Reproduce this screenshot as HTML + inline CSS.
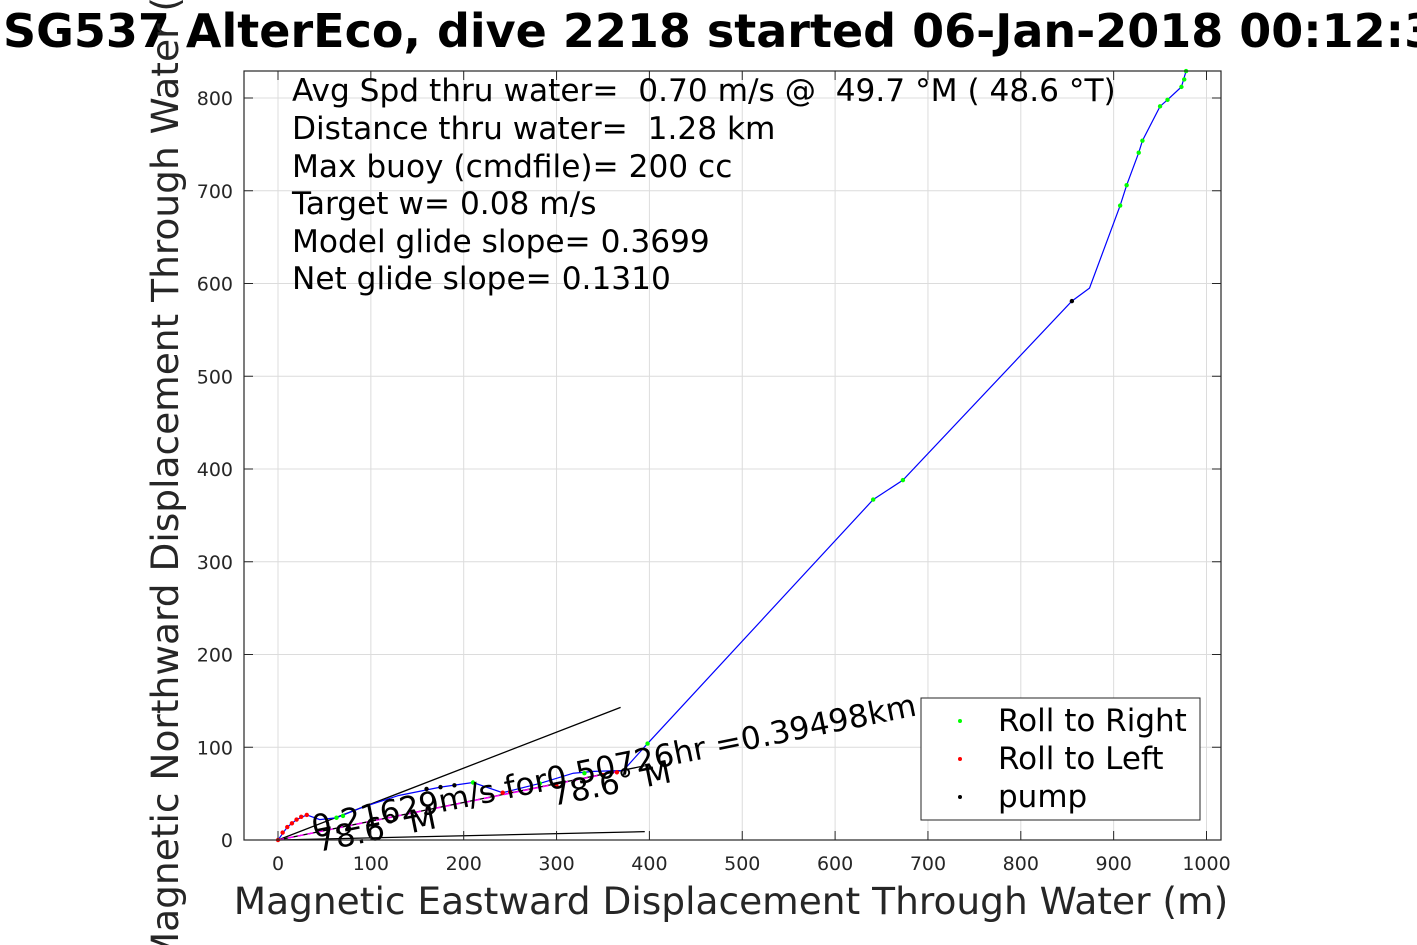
<!DOCTYPE html>
<html><head><meta charset="utf-8"><style>
body{margin:0;background:#fff;}
svg{display:block;font-family:"DejaVu Sans","Liberation Sans",sans-serif;}
text{white-space:pre;}
</style></head><body>
<svg id="chart" width="1417" height="945" viewBox="0 0 1417 945" xmlns="http://www.w3.org/2000/svg" xml:space="preserve">
<rect x="0" y="0" width="1417" height="945" fill="#fff"/>
<rect x="244" y="71" width="977" height="769" fill="#fff"/>
<g id="grid"></g>
<g id="marks"></g>
<rect x="244" y="71" width="977" height="769" fill="none" stroke="#262626" stroke-width="1.2"/>
<g id="ticks"></g>
<text x="3" y="47" font-size="46" font-weight="bold" fill="#000">SG537 AlterEco, dive 2218 started 06-Jan-2018 00:12:33</text>
<text x="731" y="914" text-anchor="middle" font-size="37.5" fill="#262626">Magnetic Eastward Displacement Through Water (m)</text>
<text transform="translate(178,455) rotate(-90)" text-anchor="middle" font-size="37.5" fill="#262626">Magnetic Northward Displacement Through Water (m)</text>
<g font-size="31.2" fill="#000">
<text x="292" y="101">Avg Spd thru water=  0.70 m/s @  49.7 °M ( 48.6 °T)</text>
<text x="292" y="139">Distance thru water=  1.28 km</text>
<text x="292" y="177">Max buoy (cmdfile)= 200 cc</text>
<text x="292" y="214">Target w= 0.08 m/s</text>
<text x="292" y="252">Model glide slope= 0.3699</text>
<text x="292" y="289">Net glide slope= 0.1310</text>
</g>
<g>
<rect x="921" y="698" width="279" height="122" fill="#fff" stroke="#262626" stroke-width="1"/>
<circle cx="960" cy="721" r="2" fill="#00ff00"/><text x="998" y="731" font-size="31">Roll to Right</text>
<circle cx="960" cy="759" r="2" fill="#ff0000"/><text x="998" y="769" font-size="31">Roll to Left</text>
<circle cx="960" cy="797" r="2" fill="#000"/><text x="998" y="807" font-size="31">pump</text>
</g>
</svg>
<script>
const xTicks=[0,100,200,300,400,500,600,700,800,900,1000];
const yTicks=[0,100,200,300,400,500,600,700,800];
const trackX=[0,10,20,31,45,63,90,130,175,210,242,282,318,340,372,398,641,673,855,874,907,914,927,931,950,958,973,978];
const trackY=[0,14,22,27,22,24,35,48,57,62,51,61,72,74,75,104,367,388,581,595,684,706,741,754,791,798,812,829];
const rightX=[63,70,210,282,330,398,641,673,907,914,927,931,950,958,973,976,978];
const rightY=[24,26,62,61,72,104,367,388,684,706,741,754,791,798,812,820,829];
const leftX=[0,5,10,15,20,25,31,242,250,300,350,365];
const leftY=[0,8,14,18,22,25,27,51,52,58,70,73];
const pumpX=[160,175,190,855];
const pumpY=[55,57,59,581];
const refEnd=[[369,143],[395,9],[395,80]];
const X0=278,XS=0.9285,Y0=840,YS=0.9275;
const sx=v=>X0+v*XS, sy=v=>Y0-v*YS;
const NS="http://www.w3.org/2000/svg";
const grid=document.getElementById('grid'),ticks=document.getElementById('ticks'),marks=document.getElementById('marks');
function mk(tag,attrs,parent){const e=document.createElementNS(NS,tag);for(const k in attrs)e.setAttribute(k,attrs[k]);parent.appendChild(e);return e;}
xTicks.forEach(t=>{
  const g=mk('line',{x1:sx(t),x2:sx(t),y1:71,y2:840,stroke:'#dcdcdc','stroke-width':1},grid);
  
  
  mk('line',{x1:sx(t),x2:sx(t),y1:840,y2:831,stroke:'#262626'},ticks);
  mk('line',{x1:sx(t),x2:sx(t),y1:71,y2:80,stroke:'#262626'},ticks);
  const l=mk('text',{x:sx(t),y:870,'text-anchor':'middle','font-size':19,fill:'#262626'},ticks);
  l.textContent=t;
  
  
});
yTicks.forEach(t=>{
  const g=mk('line',{x1:244,x2:1221,y1:sy(t),y2:sy(t),stroke:'#dcdcdc','stroke-width':1},grid);
  
  
  mk('line',{x1:244,x2:253,y1:sy(t),y2:sy(t),stroke:'#262626'},ticks);
  mk('line',{x1:1221,x2:1212,y1:sy(t),y2:sy(t),stroke:'#262626'},ticks);
  const l=mk('text',{x:233,y:sy(t)+7,'text-anchor':'end','font-size':19,fill:'#262626'},ticks);
  l.textContent=t;
  
  
});
refEnd.forEach((p,i)=>{
  const l=mk('line',{x1:sx(0),y1:sy(0),x2:sx(p[0]),y2:sy(p[1]),stroke:'#000','stroke-width':1.3},marks);
  
  
});
const dash=mk('line',{x1:sx(0),y1:sy(0),x2:sx(372),y2:sy(75),stroke:'#ff00ff','stroke-width':1.5,'stroke-dasharray':'6 4'},marks);


const path=mk('polyline',{points:trackX.map((x,i)=>sx(x)+','+sy(trackY[i])).join(' '),fill:'none',stroke:'#0000ff','stroke-width':1.2},marks);


function dots(xs,ys,c,name){xs.forEach((x,i)=>{const d=mk('circle',{cx:sx(x),cy:sy(ys[i]),r:2.2,fill:c},marks);
  
  });}
dots(rightX,rightY,'#00ff00','roll-right-point');
dots(leftX,leftY,'#ff0000','roll-left-point');
dots(pumpX,pumpY,'#000','pump-point');
const a=mk('text',{x:314,y:838,'font-size':31.3,fill:'#000',transform:'rotate(-11.5 314 838)'},marks);
a.textContent='0.21629m/s for0.50726hr =0.39498km';


const b=mk('text',{x:318,y:852,'font-size':31.3,fill:'#000',transform:'rotate(-11.4 318 852)'},marks);
b.textContent='78.6° M';


const c=mk('text',{x:553,y:806,'font-size':31.3,fill:'#000',transform:'rotate(-11.4 553 806)'},marks);
c.textContent='78.6° M';


</script>
</body></html>
